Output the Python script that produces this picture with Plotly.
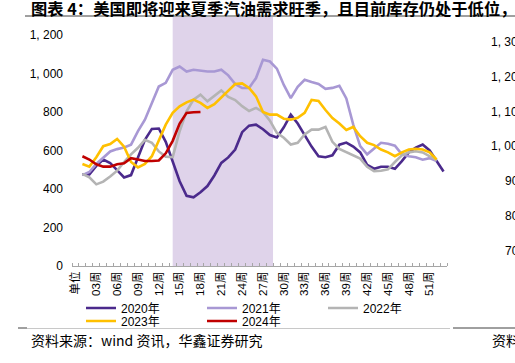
import plotly.graph_objects as go

# ---------------- data ----------------
categories = ["单位"] + [f"{w:02d}周" for w in range(1, 54)]
tick_every = 3

y2020 = [476, 476, 520, 553, 535, 500, 460, 472, 565, 655, 712, 714, 645, 540, 440, 364, 357, 383,
         415, 470, 535, 564, 605, 695, 729, 734, 710, 680, 667, 720, 786, 740, 680, 620, 570, 565,
         575, 630, 641, 620, 590, 525, 505, 515, 515, 505, 545, 590, 615, 631, 600, 545, 491]
y2021 = [472, 488, 530, 565, 595, 607, 615, 630, 700, 760, 848, 932, 951, 1019, 1036, 1010, 1019, 1015,
         1010, 1010, 1019, 990, 945, 924, 924, 976, 1071, 1062, 1025, 940, 872, 930, 967, 955, 945, 920,
         925, 936, 870, 734, 622, 580, 610, 640, 635, 625, 580, 570, 565, 552, 560, 545]
y2022 = [478, 460, 424, 438, 465, 495, 540, 580, 614, 655, 640, 595, 568, 565, 700, 803, 864, 890,
         855, 885, 912, 878, 862, 830, 805, 821, 800, 755, 691, 666, 631, 640, 683, 708, 708, 722,
         645, 608, 592, 575, 558, 515, 493, 495, 502, 540, 575, 590, 596, 590, 572, 550]
y2023 = [530, 516, 565, 622, 633, 660, 620, 540, 512, 530, 570, 650, 734, 795, 829, 850, 864, 847,
         821, 840, 875, 905, 945, 948, 925, 881, 800, 786, 786, 765, 760, 770, 795, 862, 857, 810,
         768, 740, 706, 722, 674, 640, 628, 605, 590, 570, 590, 605, 609, 605, 590, 553]
y2024 = [570, 553, 528, 516, 516, 528, 533, 560, 553, 545, 545, 548, 585, 650, 740, 795, 798, 800]

series_names = ["2020年", "2021年", "2022年", "2023年", "2024年"]
series_values = [y2020, y2021, y2022, y2023, y2024]
series_colors = ["#4B2A8C", "#A898D4", "#B4B4B4", "#FFC000", "#C00000"]

peak_season = (14, 28.45)          # shaded summer demand season (category positions)
y_ticks = [0, 200, 400, 600, 800, 1000, 1200]
y_ticktext = ["0", "200", "400", "600", "800", "1, 000", "1, 200"]

title_text = "图表 4：美国即将迎来夏季汽油需求旺季，且目前库存仍处于低位，周"
source_text = "资料来源：wind 资讯，华鑫证券研究"
next_source_text = "资料"
next_axis_labels = ["1, 300", "1, 200", "1, 100", "1, 000", "900", "800", "700"]

# ---------------- layout geometry ----------------
W, H = 515, 363
L, R, T, B = 72, 447, 17, 266
FONT = "Liberation Sans, Arial, Noto Sans CJK SC, sans-serif"
CJK = "Noto Sans CJK SC, sans-serif"

# legend slots (pixel positions): 3 columns x 2 rows
legend_cols = [81, 202, 323]
legend_rows = [308, 321]


def px(xp):
    return (xp - L) / (R - L)


def py(yp):
    return (B - yp) / (B - T)


fig = go.Figure()

legend_layout = {}
for i, (name, vals, col) in enumerate(zip(series_names, series_values, series_colors)):
    lid = "legend" if i == 0 else f"legend{i + 1}"
    fig.add_trace(go.Scatter(
        x=list(range(1, len(vals) + 1)), y=vals, mode="lines", name=name,
        line=dict(color=col, width=2.6), legend=lid, hoverinfo="skip"))
    legend_layout[lid] = dict(
        x=px(legend_cols[i % 3]), y=py(legend_rows[i // 3]), xanchor="left", yanchor="middle",
        orientation="h", font=dict(family=FONT, size=12, color="#000"),
        bgcolor="rgba(0,0,0,0)", itemwidth=30)

fig.add_shape(type="rect", xref="x", yref="y domain", x0=peak_season[0], x1=peak_season[1],
              y0=0, y1=1, fillcolor="#DFD3EA", line=dict(width=0), layer="below")

tickvals = list(range(0, len(categories), tick_every))
fig.update_xaxes(
    range=[-0.5, len(categories) - 0.5], tickmode="array", tickvals=tickvals,
    ticktext=[categories[i] for i in tickvals], tickangle=-90, ticks="", showgrid=False,
    showline=True, linecolor="#A6A6A6", linewidth=1, zeroline=False,
    tickfont=dict(family=FONT, size=11.5, color="#000"),
    minor=dict(tick0=-0.5, dtick=1, ticks="inside", ticklen=3, tickcolor="#A6A6A6", showgrid=False),
)
fig.update_yaxes(
    range=[0, 1293], tickmode="array", tickvals=y_ticks, ticktext=y_ticktext, showgrid=False,
    showline=False, zeroline=False, ticks="", ticklabelstandoff=8,
    tickfont=dict(family=FONT, size=12, color="#000"),
)

fig.update_layout(
    width=W, height=H, margin=dict(l=L, r=W - R, t=T, b=H - B),
    paper_bgcolor="white", plot_bgcolor="white", showlegend=True,
    **legend_layout,
)

ann = []
# title
ann.append(dict(text=f"<b>{title_text}</b>", x=px(29), y=py(8), xref="paper", yref="paper",
                xanchor="left", yanchor="middle", showarrow=False,
                font=dict(family=CJK, size=16.3, color="#000")))
# source
ann.append(dict(text=source_text, x=px(29), y=py(340), xref="paper", yref="paper",
                xanchor="left", yanchor="middle", showarrow=False,
                font=dict(family=CJK, size=14, color="#000")))
ann.append(dict(text=next_source_text, x=px(490), y=py(340), xref="paper", yref="paper",
                xanchor="left", yanchor="middle", showarrow=False,
                font=dict(family=CJK, size=14, color="#000")))
# neighbouring chart axis labels (cut off at the edge)
for k, lab in enumerate(next_axis_labels):
    ann.append(dict(text=lab, x=px(527), y=py(42 + k * 34.8), xref="paper", yref="paper",
                    xanchor="right", yanchor="middle", showarrow=False,
                    font=dict(family=FONT, size=12, color="#000")))
fig.update_layout(annotations=ann)

# rules
shapes_lines = [
    (25, 443, 16, "#404040"), (455, 515, 16, "#404040"),
    (18, 27, 328, "#404040"), (27, 450, 328.5, "#C8C8C8"), (453, 515, 328, "#404040"),
]
for x0, x1, yy, c in shapes_lines:
    fig.add_shape(type="line", xref="paper", yref="paper", x0=px(x0), x1=px(x1), y0=py(yy), y1=py(yy),
                  line=dict(color=c, width=1))

fig.write_html("out.html", config={"displayModeBar": False},
               post_script="document.body.style.margin='0';")
